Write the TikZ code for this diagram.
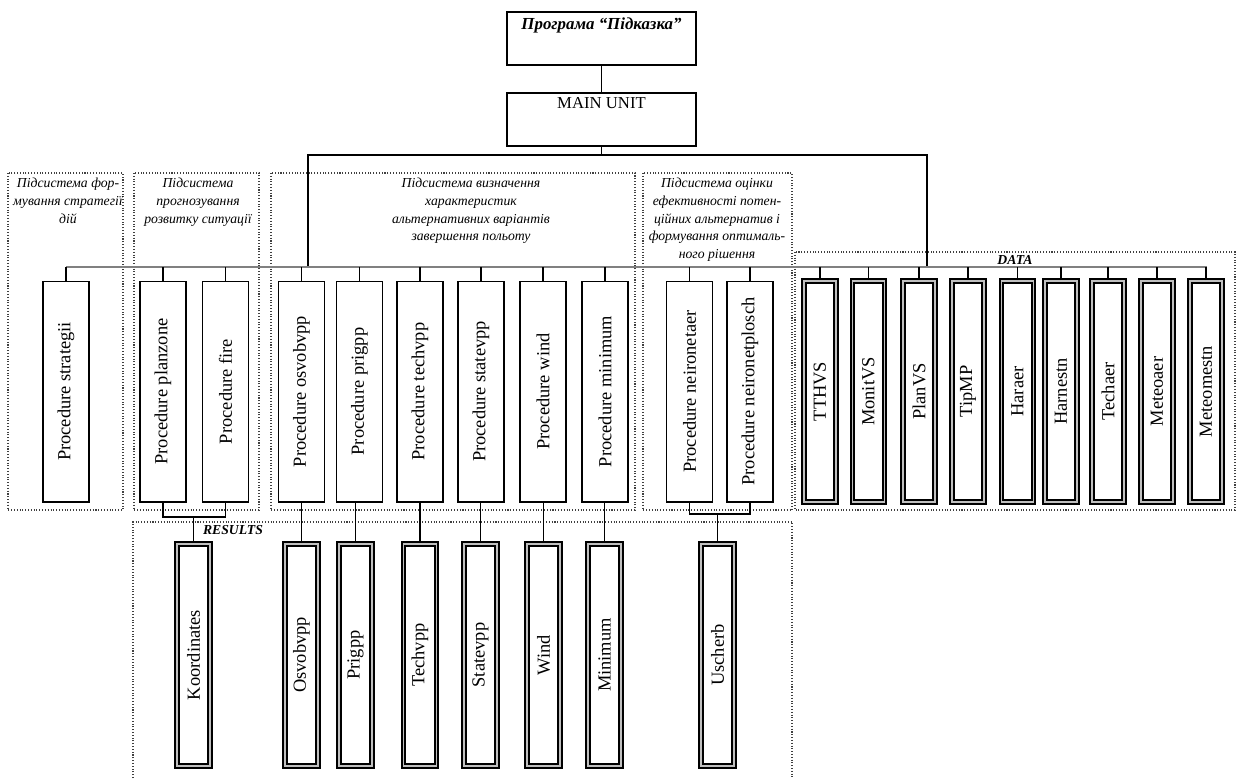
\documentclass[tikz,border=0pt]{standalone}
\usepackage{fontspec}
\usepackage{graphicx}
\setmainfont{Liberation Serif}
\tikzset{
  topbox/.style={draw, line width=0.6pt, inner sep=0pt,
    minimum width=3.78cm, minimum height=1.06cm},
  procbox/.style={draw, line width=0.6pt, inner sep=0pt,
    minimum width=0.92cm, minimum height=4.42cm,
    font=\fontsize{10.5}{12}\selectfont},
  resbox/.style={draw, line width=1.1pt, double=gray!50, double distance=1.1pt,
    inner sep=0pt, minimum width=0.66cm, minimum height=4.44cm,
    font=\fontsize{10.5}{12}\selectfont},
  subframe/.style={densely dotted, line width=0.6pt, draw=black!75},
  subtitle/.style={align=center, anchor=north, inner sep=0pt,
    font=\fontsize{7.8}{10}\selectfont\itshape},
  tag/.style={inner sep=0pt, font=\fontsize{7.8}{9}\selectfont\bfseries\itshape},
  link/.style={line width=0.6pt},
}
\begin{document}
\begin{tikzpicture}[x=0.02cm, y=-0.02cm]
  \useasboundingbox (0,0) rectangle (1238,778);

  % program and main unit
  \node[topbox, label={[anchor=north, inner sep=0pt, yshift=-3.5pt,
      font=\fontsize{9.6}{11}\selectfont\bfseries\itshape]north:Програма “Підказка”}]
    (prog) at (601.5,38.5) {};
  \node[topbox, label={[anchor=north, inner sep=0pt, yshift=-2.8pt,
      font=\fontsize{9.5}{11}\selectfont]north:MAIN UNIT}]
    (main) at (601.5,119.5) {};

  % subsystem frames
  \draw[subframe] (8,173) rectangle (123,510);
  \draw[subframe] (134,173) rectangle (259,510);
  \draw[subframe] (271,173) rectangle (635,510);
  \draw[subframe] (643,173) rectangle (792,510);
  \draw[subframe] (795,252) rectangle (1235,510);
  \draw[subframe] (133,778) |- (792,522) -- (792,778);

  \node[subtitle] (t1) at (68,178) {Підсистема фор-\\мування стратегії\\дій};
  \node[subtitle] (t2) at (198,178) {Підсистема\\прогнозування\\розвитку ситуації};
  \node[subtitle] (t3) at (471,178) {Підсистема визначення\\характеристик\\альтернативних варіантів\\завершення польоту};
  \node[subtitle] (t4) at (717,178) {Підсистема оцінки\\ефективності потен-\\ційних альтернатив і\\формування оптималь-\\ного рішення};
  \node[tag] (data) at (1015,260) {DATA};
  \node[tag] (results) at (233,530) {RESULTS};

  % procedures
  \node[procbox] (s1) at (66,391.5) {\rotatebox{90}{Procedure strategii}};
  \node[procbox] (s2) at (163,391.5) {\rotatebox{90}{Procedure planzone}};
  \node[procbox] (s3) at (225.5,391.5) {\rotatebox{90}{Procedure fire}};
  \node[procbox] (s4) at (301.5,391.5) {\rotatebox{90}{Procedure osvobvpp}};
  \node[procbox] (s5) at (359.5,391.5) {\rotatebox{90}{Procedure prigpp}};
  \node[procbox] (s6) at (420,391.5) {\rotatebox{90}{Procedure techvpp}};
  \node[procbox] (s7) at (481,391.5) {\rotatebox{90}{Procedure statevpp}};
  \node[procbox] (s8) at (543,391.5) {\rotatebox{90}{Procedure wind}};
  \node[procbox] (s9) at (605,391.5) {\rotatebox{90}{Procedure minimum}};
  \node[procbox] (s10) at (689.5,391.5) {\rotatebox{90}{Procedure neironetaer}};
  \node[procbox] (s11) at (750,391.5) {\rotatebox{90}{Procedure neironetplosch}};

  % data
  \node[resbox, minimum width=0.64cm, minimum height=4.42cm] (d1) at (820,391.5) {\rotatebox{90}{TTHVS}};
  \node[resbox, minimum width=0.64cm, minimum height=4.42cm] (d2) at (868.5,391.5) {\rotatebox{90}{MonitVS}};
  \node[resbox, minimum width=0.64cm, minimum height=4.42cm] (d3) at (919,391.5) {\rotatebox{90}{PlanVS}};
  \node[resbox, minimum width=0.64cm, minimum height=4.42cm] (d4) at (968,391.5) {\rotatebox{90}{TipMP}};
  \node[resbox, minimum width=0.64cm, minimum height=4.42cm] (d5) at (1017.5,391.5) {\rotatebox{90}{Haraer}};
  \node[resbox, minimum width=0.64cm, minimum height=4.42cm] (d6) at (1061,391.5) {\rotatebox{90}{Harnestn}};
  \node[resbox, minimum width=0.64cm, minimum height=4.42cm] (d7) at (1108,391.5) {\rotatebox{90}{Techaer}};
  \node[resbox, minimum width=0.64cm, minimum height=4.42cm] (d8) at (1157,391.5) {\rotatebox{90}{Meteoaer}};
  \node[resbox, minimum width=0.64cm, minimum height=4.42cm] (d9) at (1206,391.5) {\rotatebox{90}{Meteomestn}};

  % results
  \node[resbox] (r1) at (193.5,655) {\rotatebox{90}{Koordinates}};
  \node[resbox] (r2) at (301.5,655) {\rotatebox{90}{Osvobvpp}};
  \node[resbox] (r3) at (355.5,655) {\rotatebox{90}{Prigpp}};
  \node[resbox] (r4) at (420,655) {\rotatebox{90}{Techvpp}};
  \node[resbox] (r5) at (480.5,655) {\rotatebox{90}{Statevpp}};
  \node[resbox] (r6) at (543.5,655) {\rotatebox{90}{Wind}};
  \node[resbox] (r7) at (604.5,655) {\rotatebox{90}{Minimum}};
  \node[resbox] (r8) at (717.5,655) {\rotatebox{90}{Uscherb}};

  % buses
  \coordinate (busL) at (66,267);
  \coordinate (busR) at (1207,267);
  \coordinate (tl) at (308,155);
  \coordinate (tr) at (927,155);
  \coordinate (j1) at (193.5,517);
  \coordinate (j2) at (717.5,514);

  \begin{scope}[link]
    \draw (prog) to (main);
    \draw (main.south) to (main.south |- tl);
    \draw (tl |- busL) -- (tl) -- (tr) -- (tr |- busL);
    \draw[gray] (busL) to (busR);
    \draw (s1.north) to (s1.north |- busL);
    \draw (s2.north) to (s2.north |- busL);
    \draw (s3.north) to (s3.north |- busL);
    \draw (s4.north) to (s4.north |- busL);
    \draw (s5.north) to (s5.north |- busL);
    \draw (s6.north) to (s6.north |- busL);
    \draw (s7.north) to (s7.north |- busL);
    \draw (s8.north) to (s8.north |- busL);
    \draw (s9.north) to (s9.north |- busL);
    \draw (s10.north) to (s10.north |- busL);
    \draw (s11.north) to (s11.north |- busL);
    \draw (d1.north) to (d1.north |- busL);
    \draw (d2.north) to (d2.north |- busL);
    \draw (d3.north) to (d3.north |- busL);
    \draw (d4.north) to (d4.north |- busL);
    \draw (d5.north) to (d5.north |- busL);
    \draw (d6.north) to (d6.north |- busL);
    \draw (d7.north) to (d7.north |- busL);
    \draw (d8.north) to (d8.north |- busL);
    \draw (d9.north) to (d9.north |- busL);
    \draw (s2.south) |- (j1) -| (s3.south);
    \draw (j1) to (r1.north);
    \draw (r2.north) to (r2.north |- s4.south);
    \draw (r3.north) to (r3.north |- s5.south);
    \draw (r4.north) to (r4.north |- s6.south);
    \draw (r5.north) to (r5.north |- s7.south);
    \draw (r6.north) to (r6.north |- s8.south);
    \draw (r7.north) to (r7.north |- s9.south);
    \draw (s10.south) |- (j2) -| (s11.south);
    \draw (j2) to (r8.north);
  \end{scope}
\end{tikzpicture}
\end{document}
